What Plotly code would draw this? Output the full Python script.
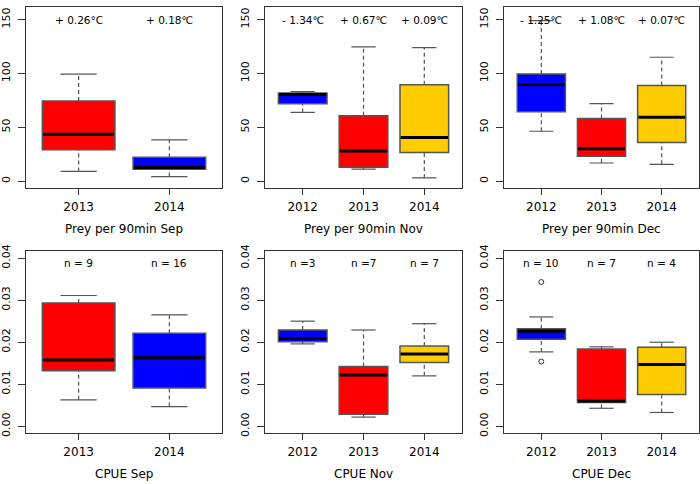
import plotly.graph_objects as go

W, H = 700, 484

# ---- data: five-number summaries [lower whisker, Q1, median, Q3, upper whisker] ----
years_2 = ["2013", "2014"]
years_3 = ["2012", "2013", "2014"]

prey_sep = [[9.0, 29.2, 43.6, 74.3, 99.4],
            [4.2, 11.1, 12.6, 22.2, 38.2]]
prey_nov = [[63.8, 71.9, 80.4, 81.8, 83.1],
            [11.1, 12.9, 28.0, 60.8, 124.7],
            [3.0, 26.5, 40.6, 89.4, 124.0]]
prey_dec = [[46.3, 64.4, 89.7, 99.4, 149.0],
            [16.8, 23.1, 30.1, 58.1, 71.9],
            [15.6, 35.8, 59.3, 88.8, 115.0]]
cpue_sep = [[0.0063, 0.0132, 0.0158, 0.0293, 0.0311],
            [0.0047, 0.0091, 0.0163, 0.0221, 0.0265]]
cpue_nov = [[0.0196, 0.0201, 0.0209, 0.0229, 0.0250],
            [0.0022, 0.0029, 0.0122, 0.0142, 0.0229],
            [0.0120, 0.0152, 0.0172, 0.0191, 0.0244]]
cpue_dec = [[0.0177, 0.0207, 0.0226, 0.0232, 0.0260],
            [0.0043, 0.0057, 0.0060, 0.0184, 0.0189],
            [0.0033, 0.0076, 0.0147, 0.0188, 0.0200]]
cpue_dec_outliers = [[0.0343, 0.0154], [], []]

temp_sep = ["+ 0.26°C", "+ 0.18℃"]
temp_nov = ["- 1.34℃", "+ 0.67℃", "+ 0.09℃"]
temp_dec = ["- 1.25℃", "+ 1.08℃", "+ 0.07℃"]
n_sep = ["n = 9", "n = 16"]
n_nov = ["n =3", "n =7", "n = 7"]
n_dec = ["n = 10", "n = 7", "n = 4"]

prey_ticks = [0, 50, 100, 150]
cpue_ticks = [0.0, 0.01, 0.02, 0.03, 0.04]

RED, BLUE, GOLD = "#FF0000", "#0000FF", "#FFCC00"
colors_2 = [RED, BLUE]
colors_3 = [BLUE, RED, GOLD]

titles = ["Prey per 90min Sep", "Prey per 90min Nov", "Prey per 90min Dec",
          "CPUE Sep", "CPUE Nov", "CPUE Dec"]

panels = [
    (prey_sep, years_2, colors_2, temp_sep, None, "top"),
    (prey_nov, years_3, colors_3, temp_nov, None, "top"),
    (prey_dec, years_3, colors_3, temp_dec, None, "top"),
    (cpue_sep, years_2, colors_2, n_sep, None, "bot"),
    (cpue_nov, years_3, colors_3, n_nov, None, "bot"),
    (cpue_dec, years_3, colors_3, n_dec, cpue_dec_outliers, "bot"),
]

# pixel geometry of the panels
col_px = [(26, 222), (265, 462), (504, 699)]
row_px = {"top": (0.5, 185), "bot": (250, 436)}

FONT = "DejaVu Sans"
fig = go.Figure()
layout = dict(width=W, height=H, margin=dict(l=0, r=0, t=0, b=0),
              paper_bgcolor="white", plot_bgcolor="white", showlegend=False,
              font=dict(family=FONT, color="black"))
annotations = []

BOXW = 0.8
CAPW = 0.4
for i, (stats, yrs, cols, labels, outl, row) in enumerate(panels):
    k = i + 1
    xa = "x" if k == 1 else f"x{k}"
    ya = "y" if k == 1 else f"y{k}"
    n = len(yrs)
    pos = list(range(1, n + 1))
    lo = [s[0] for s in stats]
    q1 = [s[1] for s in stats]
    md = [s[2] for s in stats]
    q3 = [s[3] for s in stats]
    hi = [s[4] for s in stats]

    # whiskers (dashed)
    wx, wy = [], []
    for p, a, b, c, d in zip(pos, lo, q1, q3, hi):
        wx += [p, p, None, p, p, None]
        wy += [a, b, None, c, d, None]
    fig.add_trace(go.Scatter(x=wx, y=wy, mode="lines", xaxis=xa, yaxis=ya,
                             line=dict(color="#555555", width=1.2, dash="4px,3px"),
                             hoverinfo="skip"))
    # caps
    cx, cy = [], []
    for p, a, d in zip(pos, lo, hi):
        cx += [p - CAPW / 2, p + CAPW / 2, None, p - CAPW / 2, p + CAPW / 2, None]
        cy += [a, a, None, d, d, None]
    fig.add_trace(go.Scatter(x=cx, y=cy, mode="lines", xaxis=xa, yaxis=ya,
                             line=dict(color="#555555", width=1.2),
                             hoverinfo="skip"))
    # boxes
    fig.add_trace(go.Bar(x=pos, y=[c - b for b, c in zip(q1, q3)], base=q1,
                         width=BOXW, xaxis=xa, yaxis=ya,
                         marker=dict(color=cols, line=dict(color="#555555", width=1.5))))
    # medians
    mx, my = [], []
    for p, m in zip(pos, md):
        mx += [p - BOXW / 2 + 0.01, p + BOXW / 2 - 0.01, None]
        my += [m, m, None]
    fig.add_trace(go.Scatter(x=mx, y=my, mode="lines", xaxis=xa, yaxis=ya,
                             line=dict(color="black", width=3), hoverinfo="skip"))
    # outliers
    if outl:
        ox, oy = [], []
        for p, vals in zip(pos, outl):
            for v in vals:
                ox.append(p)
                oy.append(v)
        fig.add_trace(go.Scatter(x=ox, y=oy, mode="markers", xaxis=xa, yaxis=ya,
                                 marker=dict(symbol="circle-open", size=5,
                                             color="#333333", line=dict(width=1))))

    c0, c1 = col_px[i % 3]
    r0, r1 = row_px[row]
    ext = 0.04 * n
    xr = [0.5 - ext, n + 0.5 + ext]
    if row == "top":
        ticks = prey_ticks
        ttext = [str(t) for t in ticks]
        yr = [0 - 0.04 * 155, 155 * 1.04]
        lab_y = 150
    else:
        ticks = cpue_ticks
        ttext = [f"{t:.2f}" for t in ticks]
        yr = [-0.0016, 0.0416]
        lab_y = 0.0389
    layout["xaxis" if k == 1 else f"xaxis{k}"] = dict(
        domain=[c0 / W, c1 / W], anchor=ya, range=xr, tickvals=pos, ticktext=yrs,
        ticks="outside", ticklen=6, tickcolor="#333", showline=True, mirror=True,
        linecolor="#333", linewidth=1, showgrid=False, zeroline=False,
        ticklabelstandoff=2,
        tickfont=dict(size=12, family=FONT, color="black"), fixedrange=True)
    layout["yaxis" if k == 1 else f"yaxis{k}"] = dict(
        domain=[1 - r1 / H, 1 - r0 / H], anchor=xa, range=yr, tickvals=ticks,
        ticktext=ttext, tickangle=-90, ticks="outside", ticklen=7, tickcolor="#333",
        showline=True, mirror=True, linecolor="#333", linewidth=1, showgrid=False,
        zeroline=False, ticklabelstandoff=4,
        tickfont=dict(size=11, family=FONT, color="black"),
        fixedrange=True)
    for p, t in zip(pos, labels):
        annotations.append(dict(x=p, y=lab_y, xref=xa, yref=ya, text=t,
                                showarrow=False, font=dict(size=10.5, family=FONT),
                                xanchor="center", yanchor="middle"))
    annotations.append(dict(x=0.5, y=0, xref=f"{xa} domain", yref=f"{ya} domain",
                            text=titles[i], showarrow=False, xanchor="center",
                            yanchor="middle", yshift=-41,
                            font=dict(size=12, family=FONT)))

layout["annotations"] = annotations
fig.update_layout(**layout)
fig.write_html("out.html", config={"displayModeBar": False},
               post_script="document.body.style.margin='0';document.body.style.padding='0';")
